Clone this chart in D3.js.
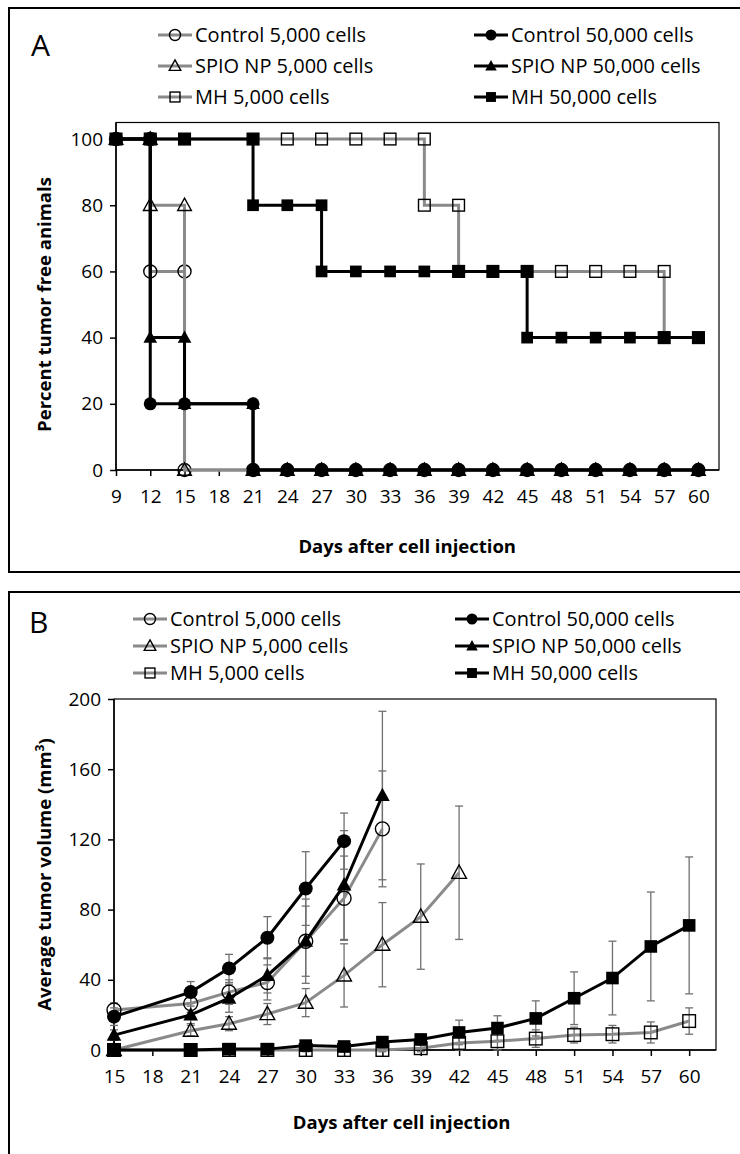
<!DOCTYPE html>
<html><head><meta charset="utf-8">
<script src="https://cdn.jsdelivr.net/npm/d3@7"></script>
<style>
body{margin:0;background:#fff}
svg{display:block}
text{font-family:'Open Sans',sans-serif;fill:#000}
</style>
</head><body>
<svg id="c" width="740" height="1154"></svg>
<script>
// ---------- DATA ----------
const seriesNames = ["Control 5,000 cells","Control 50,000 cells","SPIO NP 5,000 cells","SPIO NP 50,000 cells","MH 5,000 cells","MH 50,000 cells"];
const seriesShapes = ["circle","circle","triangle","triangle","square","square"];
const seriesFilled = [false,true,false,true,false,true];

// Panel A: step survival curves, [day, percent tumor free]
const ctrl5kA  = [[9,100],[12,100],[12,60],[15,60],[15,0],[21,0],[24,0],[27,0],[30,0],[33,0],[36,0],[39,0],[42,0],[45,0],[48,0],[51,0],[54,0],[57,0],[60,0]];
const ctrl50kA = [[9,100],[12,100],[12,20],[15,20],[21,20],[21,0],[24,0],[27,0],[30,0],[33,0],[36,0],[39,0],[42,0],[45,0],[48,0],[51,0],[54,0],[57,0],[60,0]];
const spio5kA  = [[9,100],[12,100],[12,80],[15,80],[15,0],[21,0],[24,0],[27,0],[30,0],[33,0],[36,0],[39,0],[42,0],[45,0],[48,0],[51,0],[54,0],[57,0],[60,0]];
const spio50kA = [[9,100],[12,100],[12,40],[15,40],[15,20],[21,20],[21,0],[24,0],[27,0],[30,0],[33,0],[36,0],[39,0],[42,0],[45,0],[48,0],[51,0],[54,0],[57,0],[60,0]];
const mh5kA    = [[9,100],[12,100],[15,100],[21,100],[24,100],[27,100],[30,100],[33,100],[36,100],[36,80],[39,80],[39,60],[42,60],[45,60],[48,60],[51,60],[54,60],[57,60],[57,40],[60,40]];
const mh50kA   = [[9,100],[12,100],[15,100],[21,100],[21,80],[24,80],[27,80],[27,60],[30,60],[33,60],[36,60],[39,60],[42,60],[45,60],[45,40],[48,40],[51,40],[54,40],[57,40],[60,40]];
const ticksAx = [9,12,15,18,21,24,27,30,33,36,39,42,45,48,51,54,57,60];
const ticksAy = [0,20,40,60,80,100];

// Panel B: mean tumor volume (mm3) and error
const daysB = [15,21,24,27,30,33,36,39,42,45,48,51,54,57,60];
const ctrl5kB    = [22.8,26.5,33,38.5,62,86.5,126];
const ctrl5kErr  = [4,5,7,10,24,24,33];
const ctrl50kB   = [19,33,46.5,64,92,119];
const ctrl50kErr = [5,6,8,12,21,16];
const spio5kB    = [0,11,15,20.5,27,42.5,60,76,101];
const spio5kErr  = [1,3,4,6,8,18,24,30,38];
const spio50kB   = [8.5,20,29.5,42.5,62,94,145];
const spio50kErr = [3,5,8,10,20,31,48];
const mh5kB      = [0,0,0,0,0,0,0,1,4,5,6.5,8.5,9,10,16.5];
const mh5kErr    = [0,0,0,0,1,1,1,2,4,5,5,4.5,5,6,7.5];
const mh50kB     = [0,0,0.5,0.5,2.5,2,4.5,6,10,12.5,18,29.5,41,59,71];
const mh50kErr   = [0,0,0.5,0.5,1,1,2,3,7,7,10,15,21,31,39];
const ticksBx = [15,18,21,24,27,30,33,36,39,42,45,48,51,54,57,60];
const ticksBy = [0,40,80,120,160,200];

// ---------- DRAW ----------
const svg = d3.select("#c");
const GRAY = "#8a8a8a", BLACK = "#000";

function marker(g, shape, filled, x, y, s) {
  const fill = filled ? BLACK : "none";
  const sw = filled ? 0 : 1.4;
  if (shape === "circle") {
    g.append("circle").attr("cx", x).attr("cy", y).attr("r", s/2)
      .attr("fill", fill).attr("stroke", "#000").attr("stroke-width", sw);
  } else if (shape === "square") {
    const a = s*0.9;
    g.append("rect").attr("x", x-a/2).attr("y", y-a/2).attr("width", a).attr("height", a)
      .attr("fill", fill).attr("stroke", "#000").attr("stroke-width", sw);
  } else {
    const h = s*0.95, w = s*1.05;
    g.append("path").attr("d", `M${x},${y-h*0.58}L${x+w/2},${y+h*0.42}L${x-w/2},${y+h*0.42}Z`)
      .attr("fill", fill).attr("stroke", "#000").attr("stroke-width", sw);
  }
}

function legend(g, x1, x2, y0, dy) {
  seriesNames.forEach((n, i) => {
    const col = i % 2, row = Math.floor(i / 2);
    const lx = col ? x2 : x1;
    const y = y0 + row * dy;
    const color = seriesFilled[i] ? BLACK : GRAY;
    g.append("line").attr("x1", lx).attr("x2", lx + 34).attr("y1", y).attr("y2", y)
      .attr("stroke", color).attr("stroke-width", 3);
    marker(g, seriesShapes[i], seriesFilled[i], lx + 17, y, 11);
    g.append("text").attr("x", lx + 37).attr("y", y).attr("dy", "0.35em")
      .attr("font-size", 20).text(n);
  });
}

// Panel frames
svg.append("rect").attr("x", 9).attr("y", 8).attr("width", 760).attr("height", 564)
  .attr("fill", "none").attr("stroke", "#000").attr("stroke-width", 2);
svg.append("rect").attr("x", 9).attr("y", 592).attr("width", 760).attr("height", 600)
  .attr("fill", "none").attr("stroke", "#000").attr("stroke-width", 2);

// ===== Panel A =====
const gA = svg.append("g");
const xA = d3.scaleLinear().domain([9, 61.8]).range([116, 719]);
const yA = d3.scaleLinear().domain([0, 105]).range([470, 122.5]);

gA.append("text").attr("x", 31).attr("y", 56).attr("font-size", 30).text("A");
legend(gA, 158, 474, 35, 31);

gA.append("rect").attr("x", xA.range()[0]).attr("y", yA(105)).attr("width", xA.range()[1]-xA.range()[0])
  .attr("height", yA(0)-yA(105)).attr("fill", "none").attr("stroke", "#000").attr("stroke-width", 1.2);

const axAx = gA.append("g").attr("transform", `translate(0,${yA(0)})`)
  .call(d3.axisBottom(xA).tickValues(ticksAx).tickSize(6).tickSizeOuter(0).tickPadding(14).tickFormat(d3.format("d")));
const axAy = gA.append("g").attr("transform", `translate(${xA(9)},0)`)
  .call(d3.axisLeft(yA).tickValues(ticksAy).tickSize(6).tickSizeOuter(0).tickPadding(7));
[axAx, axAy].forEach(a => {
  a.select(".domain").remove();
  a.selectAll("line").attr("stroke", "#000").attr("stroke-width", 1.5);
  a.selectAll("text").attr("font-size", 19).attr("font-family", "'Open Sans',sans-serif").attr("fill", "#000");
});
gA.append("line").attr("x1", xA(9)).attr("x2", xA(61.8)).attr("y1", yA(0)).attr("y2", yA(0)).attr("stroke", "#000").attr("stroke-width", 1.5);
gA.append("line").attr("x1", xA(9)).attr("x2", xA(9)).attr("y1", yA(0)).attr("y2", yA(105)).attr("stroke", "#000").attr("stroke-width", 1.5);

gA.append("text").attr("x", (xA(9)+xA(60))/2).attr("y", 547).attr("dy", "0.35em")
  .attr("text-anchor", "middle").attr("font-size", 18.5).attr("font-weight", "bold").text("Days after cell injection");
gA.append("text").attr("transform", `translate(45,${(yA(0)+yA(100))/2}) rotate(-90)`).attr("dy", "0.35em")
  .attr("text-anchor", "middle").attr("font-size", 18.5).attr("font-weight", "bold").text("Percent tumor free animals");

const seriesA = [ctrl5kA, spio5kA, mh5kA, ctrl50kA, spio50kA, mh50kA];
const idxA = [0, 2, 4, 1, 3, 5];
const lineA = d3.line().x(d => xA(d[0])).y(d => yA(d[1]));
seriesA.forEach((data, k) => {
  const i = idxA[k];
  const g = gA.append("g");
  g.append("path").attr("d", lineA(data)).attr("fill", "none")
    .attr("stroke", seriesFilled[i] ? BLACK : GRAY).attr("stroke-width", 3);
  data.forEach(d => marker(g, seriesShapes[i], seriesFilled[i], xA(d[0]), yA(d[1]), 13));
});

// ===== Panel B =====
const gB = svg.append("g");
const xB = d3.scaleLinear().domain([15, 62.1]).range([114, 716]);
const yB = d3.scaleLinear().domain([0, 200]).range([1050, 699]);

gB.append("text").attr("x", 29).attr("y", 633).attr("font-size", 30).text("B");
legend(gB, 133, 455, 619, 27);

gB.append("rect").attr("x", xB.range()[0]).attr("y", yB(200)).attr("width", xB.range()[1]-xB.range()[0])
  .attr("height", yB(0)-yB(200)).attr("fill", "none").attr("stroke", "#000").attr("stroke-width", 1.2);

const axBx = gB.append("g").attr("transform", `translate(0,${yB(0)})`)
  .call(d3.axisBottom(xB).tickValues(ticksBx).tickSize(6).tickSizeOuter(0).tickPadding(14).tickFormat(d3.format("d")));
const axBy = gB.append("g").attr("transform", `translate(${xB(15)},0)`)
  .call(d3.axisLeft(yB).tickValues(ticksBy).tickSize(6).tickSizeOuter(0).tickPadding(7));
[axBx, axBy].forEach(a => {
  a.select(".domain").remove();
  a.selectAll("line").attr("stroke", "#000").attr("stroke-width", 1.5);
  a.selectAll("text").attr("font-size", 19).attr("font-family", "'Open Sans',sans-serif").attr("fill", "#000");
});
gB.append("line").attr("x1", xB(15)).attr("x2", xB(62.1)).attr("y1", yB(0)).attr("y2", yB(0)).attr("stroke", "#000").attr("stroke-width", 1.5);
gB.append("line").attr("x1", xB(15)).attr("x2", xB(15)).attr("y1", yB(0)).attr("y2", yB(200)).attr("stroke", "#000").attr("stroke-width", 1.5);

gB.append("text").attr("x", (xB(15)+xB(60))/2).attr("y", 1123).attr("dy", "0.35em")
  .attr("text-anchor", "middle").attr("font-size", 18.5).attr("font-weight", "bold").text("Days after cell injection");
const yt = gB.append("text").attr("transform", `translate(45,${(yB(0)+yB(200))/2}) rotate(-90)`).attr("dy", "0.35em")
  .attr("text-anchor", "middle").attr("font-size", 18.5).attr("font-weight", "bold");
yt.append("tspan").text("Average tumor volume (mm");
yt.append("tspan").attr("font-size", 12).attr("dy", "-0.6em").text("3");
yt.append("tspan").attr("dy", "0.4em").text(")");

const seriesB = [
  {v: ctrl5kB, e: ctrl5kErr, i: 0},
  {v: spio5kB, e: spio5kErr, i: 2},
  {v: mh5kB, e: mh5kErr, i: 4},
  {v: ctrl50kB, e: ctrl50kErr, i: 1},
  {v: spio50kB, e: spio50kErr, i: 3},
  {v: mh50kB, e: mh50kErr, i: 5}
];
const lineB = d3.line().x(d => xB(d[0])).y(d => yB(d[1]));
const gE = gB.append("g");
const gL = gB.append("g");
seriesB.forEach(s => {
  const pts = s.v.map((v, j) => [daysB[j], v, s.e[j]]);
  pts.forEach(p => {
    if (p[2] <= 0) return;
    const x = xB(p[0]), y1 = yB(p[1] + p[2]), y2 = yB(p[1] - p[2]);
    gE.append("line").attr("x1", x).attr("x2", x).attr("y1", y1).attr("y2", y2).attr("stroke", "#707070").attr("stroke-width", 1.3);
    [y1, y2].forEach(yy => gE.append("line").attr("x1", x-4).attr("x2", x+4).attr("y1", yy).attr("y2", yy).attr("stroke", "#707070").attr("stroke-width", 1.3));
  });
});
seriesB.forEach(s => {
  const pts = s.v.map((v, j) => [daysB[j], v]);
  const g = gL.append("g");
  g.append("path").attr("d", lineB(pts)).attr("fill", "none")
    .attr("stroke", seriesFilled[s.i] ? BLACK : GRAY).attr("stroke-width", 3);
  pts.forEach(p => marker(g, seriesShapes[s.i], seriesFilled[s.i], xB(p[0]), yB(p[1]), 14));
});
</script>
</body></html>
